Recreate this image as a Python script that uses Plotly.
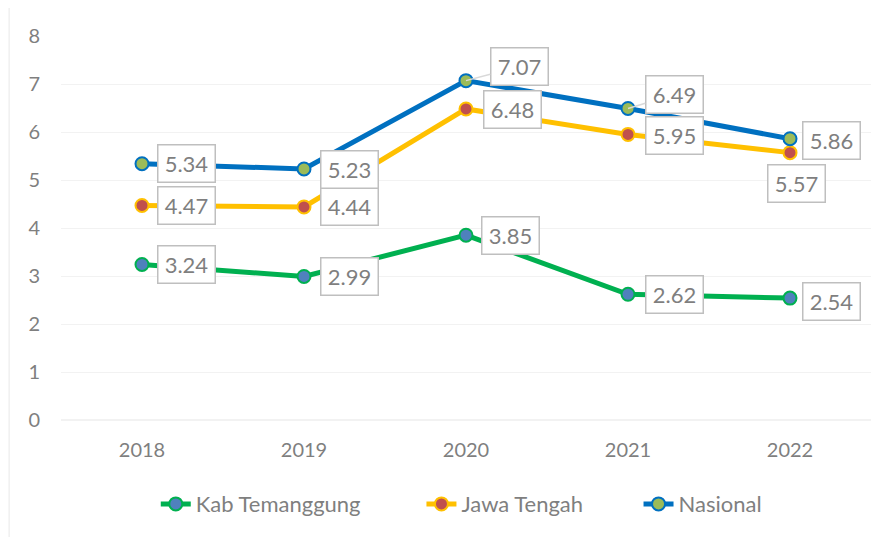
import plotly.graph_objects as go

years = ["2018", "2019", "2020", "2021", "2022"]
kab_temanggung = [3.24, 2.99, 3.85, 2.62, 2.54]
jawa_tengah = [4.47, 4.44, 6.48, 5.95, 5.57]
nasional = [5.34, 5.23, 7.07, 6.49, 5.86]

GRAY = "#7f7f7f"
FONT = "Lato"

series = [
    ("Kab Temanggung", kab_temanggung, "#00b050", "#4f81bd"),
    ("Jawa Tengah", jawa_tengah, "#ffc000", "#c0504d"),
    ("Nasional", nasional, "#0070c0", "#9bbb59"),
]

# label offsets in screen pixels (dx right, dy down); None -> leader line
label_shift = {
    "Kab Temanggung": [(44, 0), (45, 0), (44, 0), (46, 0), (41, 3)],
    "Jawa Tengah": [(44, 0), (45, 0), (46, 1), (46, 1), (6, 31)],
    "Nasional": [(44, 0), (45, 1), None, None, (41, 2)],
}
leader = {("Nasional", 2): (53, -14), ("Nasional", 3): (46, -14)}

# one legend per series so each entry can sit where it does in the original
legend_ids = ["legend", "legend2", "legend3"]
legend_x = [0.117, 0.445, 0.713]

fig = go.Figure()
for (name, vals, line_c, fill_c), lg in zip(series, legend_ids):
    fig.add_trace(go.Scatter(
        x=years, y=vals, name=name, mode="lines+markers", legend=lg,
        line=dict(color=line_c, width=5),
        marker=dict(size=13, color=fill_c, line=dict(color=line_c, width=2)),
    ))

for name, vals, _, _ in series:
    for i, (yr, v) in enumerate(zip(years, vals)):
        kw = dict(
            x=i, y=v, xref="x", yref="y", text=f"{v:.2f}",
            font=dict(family=FONT, size=22, color=GRAY),
            bgcolor="white", bordercolor="#bfbfbf", borderwidth=1.5,
            borderpad=1, width=54, height=34,
        )
        if (name, i) in leader:
            ax, ay = leader[(name, i)]
            kw.update(showarrow=True, arrowhead=0, arrowwidth=1.5,
                      arrowcolor="#d9d9d9", ax=ax, ay=ay)
        else:
            dx, dy = label_shift[name][i]
            kw.update(showarrow=False, xshift=dx, yshift=-dy)
        fig.add_annotation(**kw)

legend_style = dict(orientation="h", xanchor="left", y=-0.219, yanchor="middle",
                    font=dict(family=FONT, size=22, color=GRAY),
                    bgcolor="rgba(0,0,0,0)")

# page body has an 8px margin, so the margins are shifted back by 8px
fig.update_layout(
    width=890, height=537,
    margin=dict(l=53, r=27, t=28, b=125),
    paper_bgcolor="white", plot_bgcolor="white",
    font=dict(family=FONT, color=GRAY),
    showlegend=True,
    legend=dict(x=legend_x[0], **legend_style),
    legend2=dict(x=legend_x[1], **legend_style),
    legend3=dict(x=legend_x[2], **legend_style),
    xaxis=dict(type="category", showgrid=False, showline=False, ticks="",
               tickfont=dict(family=FONT, size=20, color=GRAY),
               ticklabelstandoff=16, range=[-0.5, 4.5]),
    yaxis=dict(range=[0, 8], dtick=1, showgrid=True, gridcolor="#f2f2f2",
               gridwidth=1, zeroline=True, zerolinecolor="#f2f2f2",
               showline=False, ticks="", ticklabelstandoff=20,
               tickfont=dict(family=FONT, size=20, color=GRAY)),
    shapes=[
        dict(type="line", xref="paper", yref="paper",
             x0=-0.064, x1=-0.064, y0=1.0755, y1=-0.32,
             line=dict(color="#f0f0f0", width=1.5)),
        dict(type="line", xref="paper", yref="paper",
             x0=-0.064, x1=1.04, y0=1.0755, y1=1.0755,
             line=dict(color="#f0f0f0", width=1.5)),
    ],
)

fig.write_html("out.html")
